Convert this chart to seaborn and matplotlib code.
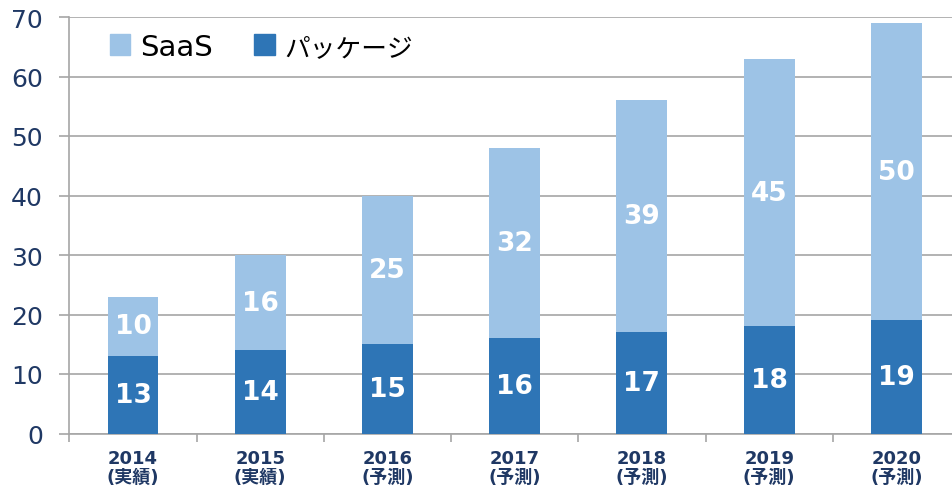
import numpy as np
import pandas as pd
import seaborn as sns
import matplotlib.pyplot as plt
import matplotlib.ticker as ticker
from matplotlib.patches import Patch


sns.set_theme(style='white')
plt.rcParams['font.family'] = ['DejaVu Sans', 'Noto Sans CJK JP']

# データ
years = ['2014', '2015', '2016', '2017', '2018', '2019', '2020']
kinds = ['実績', '実績', '予測', '予測', '予測', '予測', '予測']
package = [13, 14, 15, 16, 17, 18, 19]
saas = [10, 16, 25, 32, 39, 45, 50]

light = '#9DC3E6'
dark = '#2E75B6'
navy = '#1F3864'
grid = '#A6A6A6'

df = pd.DataFrame({'year': years, 'package': package, 'saas': saas})
df['total'] = df['package'] + df['saas']

fig = plt.figure(figsize=(9.53, 4.89), dpi=100)
ax = fig.add_axes([69.4 / 953, 54.5 / 489, (960 - 69.4) / 953, (434.5 - 18) / 489])

# 全体 (SaaS) を先に描いて、その上にパッケージを重ねる
sns.barplot(data=df, x='year', y='total', color=light, width=0.4, saturation=1,
            linewidth=0, edgecolor='none', ax=ax, zorder=2)
sns.barplot(data=df, x='year', y='package', color=dark, width=0.4, saturation=1,
            linewidth=0, edgecolor='none', ax=ax, zorder=3)

for i, row in df.iterrows():
    ax.text(i, row['package'] / 2, f"{row['package']}", ha='center', va='center',
            color='white', fontsize=19, fontweight='bold', zorder=4)
    ax.text(i, row['package'] + row['saas'] / 2, f"{row['saas']}", ha='center', va='center',
            color='white', fontsize=19, fontweight='bold', zorder=4)

ax.set_ylim(0, 70)
ax.set_xlim(-0.5, 6.5)
ax.yaxis.set_major_locator(ticker.MultipleLocator(10))
ax.yaxis.grid(True, color=grid, linewidth=1.2, zorder=0)
ax.set_axisbelow(True)

ax.set_xticks(range(len(years)))
ax.set_xticklabels([f'{y}\n({k})' for y, k in zip(years, kinds)],
                   fontsize=13, fontweight='bold', color=navy, linespacing=1.05)
ax.set_xticks(np.arange(-0.5, 7, 1), minor=True)
ax.tick_params(axis='x', which='major', length=0, pad=11)
ax.tick_params(axis='x', which='minor', length=6, width=1.2, color=grid, direction='out', bottom=True)
ax.tick_params(axis='y', length=7, width=1.2, color=grid, direction='out', left=True,
               labelsize=18, labelcolor=navy, pad=12)

ax.set_xlabel('')
ax.set_ylabel('')
for s in ['top', 'right']:
    ax.spines[s].set_visible(False)
for s in ['left', 'bottom']:
    ax.spines[s].set_color(grid)
    ax.spines[s].set_linewidth(1.2)

handles = [Patch(color=light, label='SaaS'), Patch(color=dark, label='パッケージ')]
leg = ax.legend(handles=handles, loc='upper left', bbox_to_anchor=(0.016, 1.025), ncol=2, frameon=False,
                fontsize=21, handlelength=0.7, handleheight=0.7, handletextpad=0.35, columnspacing=1.4)
leg.get_texts()[1].set_fontsize(18.5)
for t in leg.get_texts():
    t.set_color('black')

plt.savefig('out.png', dpi=100)
